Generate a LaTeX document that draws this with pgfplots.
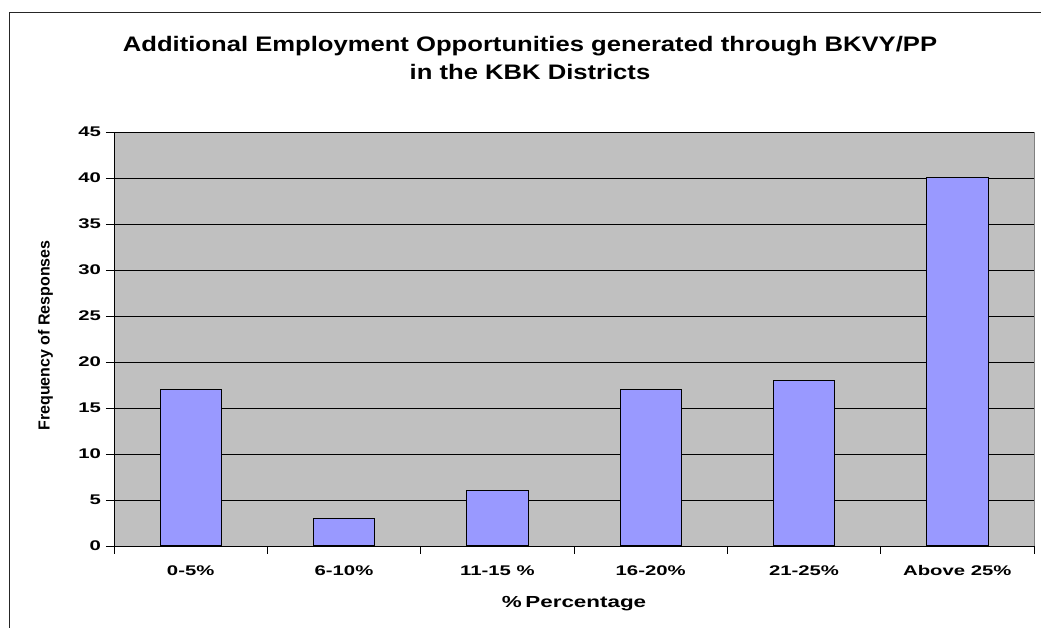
\documentclass[border=0pt]{standalone}
\usepackage{fontspec}
\setmainfont{Liberation Sans}
\usepackage{pgfplots}
\pgfplotsset{compat=1.18}
\definecolor{plotbg}{HTML}{C0C0C0}
\definecolor{barfill}{HTML}{9999FF}
\begin{document}
\begin{tikzpicture}[x=1pt,y=1pt]
\useasboundingbox (0,0) rectangle (1041,628);
\draw[line width=1.3pt, black!85] (9.5,-5) -- (9.5,615.7) -- (1050,615.7);
\node[font=\fontsize{21}{28}\selectfont\bfseries, align=center, xscale=1.22] at (530,570) {Additional Employment Opportunities generated through BKVY/PP\\in the KBK Districts};
\node[font=\fontsize{16}{20}\selectfont\bfseries, rotate=90] at (45.5,292.5) {Frequency of Responses};
\begin{axis}[
  at={(114pt,82pt)}, anchor=south west,
  scale only axis, width=920pt, height=414pt,
  xmin=-0.5, xmax=5.5, ymin=0, ymax=45,
  axis lines*=left,
  axis line style={black, line width=0.8pt},
  axis background/.style={fill=plotbg, draw=gray, line width=0.8pt},
  /pgf/number format/assume math mode=true,
  ytick={0,5,...,45},
  ymajorgrids,
  major grid style={black, line width=0.6pt},
  tick align=outside,
  major tick length=8pt,
  tick style={black, line width=0.6pt},
  xtick={-0.5,0.5,...,5.5},
  x tick label as interval,
  xticklabels={0-5\%,6-10\%,11-15 \%,16-20\%,21-25\%,Above 25\%},
  ticklabel style={font=\fontsize{14}{16}\selectfont\bfseries, xscale=1.45},
  xticklabel style={yshift=-8pt},
  xlabel={\%\,Percentage},
  xlabel style={font=\fontsize{16}{18}\selectfont\bfseries, xscale=1.4, yshift=-14pt},
  ybar, bar width=0.4,
]
\addplot[fill=barfill, draw=black, line width=1pt] coordinates {(0,17) (1,3) (2,6) (3,17) (4,18) (5,40)};
\end{axis}
\end{tikzpicture}
\end{document}
